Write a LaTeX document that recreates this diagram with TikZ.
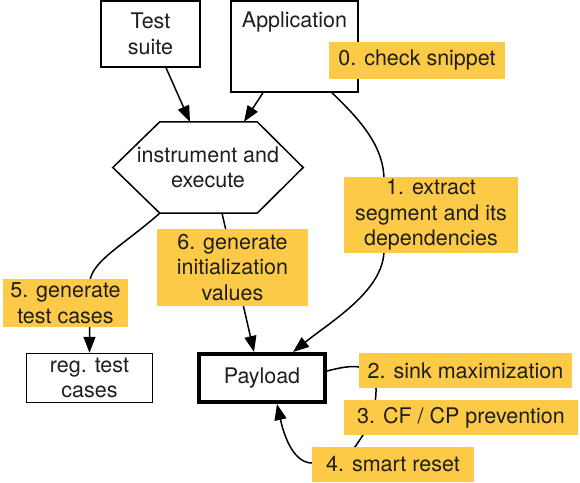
\documentclass[tikz,border=0pt]{standalone}
\usepackage{fontspec}
\setmainfont{TeX Gyre Heros}
\usetikzlibrary{arrows.meta}
\definecolor{labelyellow}{RGB}{253,202,72}
\definecolor{inkgray}{RGB}{30,30,30}
\newcommand\dfont{\fontsize{21.5pt}{25.5pt}\selectfont}
\begin{document}
\begin{tikzpicture}[x=1pt, y=-1pt,
  every node/.style={font=\dfont, text=inkgray, inner sep=0pt, align=center},
  box/.style={draw, line width=1.5pt},
  thickbox/.style={draw, line width=4pt},
  tag/.style={fill=labelyellow},
  conn/.style={line width=1.5pt, line cap=round},
  arr/.style={conn, -{Triangle[length=16pt,width=12pt]}}]
\useasboundingbox (0,0) rectangle (580,482);

% input and result boxes
\node[box, minimum width=99pt, minimum height=66pt] (suite) at (150.5,34) {Test\\suite};
\node[box, minimum width=127pt, minimum height=91pt,
      label={[name=applbl, anchor=center, yshift=-22pt]north:Application}] (app) at (294.5,46.5) {};
\node[box, minimum width=126pt, minimum height=49pt] (reg) at (89.5,378) {reg. test\\cases};
\node[thickbox, minimum width=126pt, minimum height=48pt] (pay) at (262,378) {Payload};

% hexagonal processing step
\node[minimum width=190pt, minimum height=91pt] (hex) at (208,167.5) {instrument and\\execute};
\draw[line width=1.5pt, line join=miter]
  (hex.west) -- ([xshift=47pt]hex.north west) -- ([xshift=-46pt]hex.north east)
  -- (hex.east) -- ([xshift=-46pt]hex.south east) -- ([xshift=47pt]hex.south west) -- cycle;

% connectors
\draw[arr] ([xshift=15.5pt]suite.south) -- ([xshift=-18pt]hex.north);
\draw[arr] ([xshift=-31.5pt]app.south) -- ([xshift=36pt]hex.north);
\draw[arr] ([xshift=37.5pt]app.south) .. controls (358,118) and (384,145) .. (384,180)
  -- (384,250) .. controls (384,290) and (333,320) .. ([xshift=31pt]pay.north);
\draw[arr] ([xshift=14pt]hex.south) -- ([xshift=-8pt]pay.north);
\draw[arr] ([xshift=47pt]hex.south west) .. controls (120,248) and (89.5,262) .. (89.5,285)
  -- (reg.north);
\draw[arr] ([yshift=7pt]pay.east) .. controls (350,365) and (377,360) .. (376,392)
  .. controls (375,420) and (365,432) .. (355,447)
  -- (312,463) .. controls (295,463) and (285,440) .. ([xshift=15pt]pay.south);

% step labels
\node[tag, minimum width=176pt, minimum height=37pt] (snip) at (417,60.5) {0. check snippet};
\node[tag, minimum width=174pt, minimum height=76pt] (ext) at (431,215) {1. extract\\segment and its\\dependencies};
\node[tag, minimum width=213pt, minimum height=35pt] (sink) at (465.5,370.5) {2. sink maximization};
\node[tag, minimum width=234pt, minimum height=35pt] (cf) at (461,417.5) {3. CF / CP prevention};
\node[tag, minimum width=162pt, minimum height=35pt] (reset) at (393,464.5) {4. smart reset};
\node[tag, minimum width=125pt, minimum height=48pt] (tc) at (65.5,303) {5. generate\\test cases};
\node[tag, minimum width=151pt, minimum height=77pt] (gen) at (232.5,267.5) {6. generate\\initialization\\values};
\end{tikzpicture}
\end{document}
